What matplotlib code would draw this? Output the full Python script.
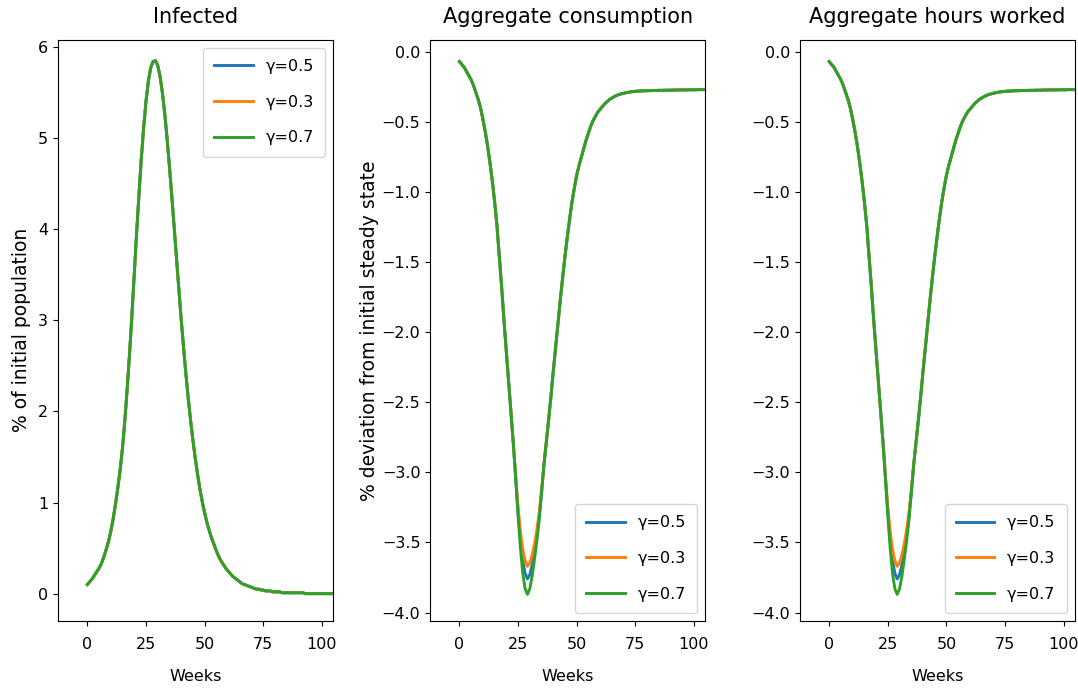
import matplotlib
matplotlib.use("Agg")
import matplotlib.pyplot as plt

weeks = list(range(105))

# infected, % of initial population (same for every gamma)
infected = [
    0.10, 0.13, 0.16, 0.20, 0.24, 0.28, 0.33, 0.40, 0.48, 0.57,
    0.68, 0.82, 0.98, 1.16, 1.36, 1.60, 1.90, 2.25, 2.63, 3.05,
    3.50, 3.95, 4.37, 4.77, 5.11, 5.40, 5.62, 5.77, 5.84, 5.85,
    5.80, 5.68, 5.50, 5.27, 5.00, 4.69, 4.37, 4.03, 3.69, 3.35,
    3.02, 2.71, 2.42, 2.15, 1.91, 1.69, 1.49, 1.31, 1.15, 1.01,
    0.89, 0.78, 0.69, 0.61, 0.54, 0.47, 0.41, 0.36, 0.32, 0.28,
    0.25, 0.22, 0.19, 0.17, 0.15, 0.13, 0.11, 0.10, 0.09, 0.08,
    0.07, 0.06, 0.05, 0.05, 0.04, 0.04, 0.03, 0.03, 0.03, 0.02,
    0.02, 0.02, 0.02, 0.01, 0.01, 0.01, 0.01, 0.01, 0.01, 0.01,
    0.01, 0.01, 0.01, 0.00, 0.00, 0.00, 0.00, 0.00, 0.00, 0.00,
    0.00, 0.00, 0.00, 0.00, 0.00,
]

# consumption, % deviation from initial steady state (gamma=0.3 path)
cons_base = [
    -0.07, -0.09, -0.11, -0.14, -0.17, -0.20, -0.24, -0.29, -0.34, -0.40,
    -0.48, -0.57, -0.67, -0.79, -0.92, -1.07, -1.24, -1.46, -1.68, -1.92,
    -2.14, -2.36, -2.58, -2.80, -3.03, -3.25, -3.42, -3.55, -3.63, -3.67,
    -3.645, -3.59, -3.51, -3.41, -3.29, -3.13, -2.95, -2.79, -2.63, -2.46,
    -2.28, -2.11, -1.94, -1.77, -1.61, -1.46, -1.32, -1.19, -1.07, -0.97,
    -0.88, -0.81, -0.75, -0.69, -0.63, -0.58, -0.53, -0.49, -0.46, -0.43,
    -0.41, -0.39, -0.37, -0.355, -0.34, -0.33, -0.32, -0.312, -0.305, -0.30,
    -0.296, -0.292, -0.289, -0.286, -0.284, -0.282, -0.281, -0.280, -0.279, -0.278,
    -0.278, -0.277, -0.277, -0.276, -0.276, -0.275, -0.275, -0.275, -0.274, -0.274,
    -0.274, -0.273, -0.273, -0.273, -0.272, -0.272, -0.272, -0.272, -0.271, -0.271,
    -0.271, -0.271, -0.270, -0.270, -0.270,
]

# the paths only split around the trough (weeks 24..35)
trough_start = 24
trough_05 = [-3.04, -3.28, -3.48, -3.63, -3.72, -3.76, -3.73, -3.66, -3.56, -3.45, -3.31, -3.14]
trough_03 = cons_base[24:36]
trough_07 = [-3.05, -3.31, -3.54, -3.72, -3.83, -3.87, -3.83, -3.74, -3.62, -3.49, -3.34, -3.15]

gammas = ["0.5", "0.3", "0.7"]
troughs = [trough_05, trough_03, trough_07]


def with_trough(base, trough):
    s = list(base)
    s[trough_start:trough_start + len(trough)] = trough
    return s


consumption = [with_trough(cons_base, t) for t in troughs]
hours = [with_trough(cons_base, t) for t in troughs]  # identical in the figure

plt.rcParams["font.size"] = 11.5

fig = plt.figure(figsize=(10.78, 6.92), dpi=100)
w, h, b = 0.255, 0.840, 0.1026
ax1 = fig.add_axes([0.0538, b, w, h])
ax2 = fig.add_axes([0.399, b, w, h])
ax3 = fig.add_axes([0.742, b, w, h])

leg_kw = dict(labelspacing=1.3, borderpad=0.7, handlelength=2.4)

for g in gammas:
    ax1.plot(weeks, infected, lw=2.1, label="γ=" + g)
ax1.set_title("Infected", fontsize=15, pad=12)
ax1.set_ylabel("% of initial population", fontsize=13.5, labelpad=5)
ax1.legend(loc="upper right", **leg_kw)

for g, s in zip(gammas, consumption):
    ax2.plot(weeks, s, lw=2.1, label="γ=" + g)
ax2.set_title("Aggregate consumption", fontsize=15, pad=12)
ax2.set_ylabel("% deviation from initial steady state", fontsize=13.5, labelpad=2)
ax2.legend(loc="lower right", **leg_kw)

for g, s in zip(gammas, hours):
    ax3.plot(weeks, s, lw=2.1, label="γ=" + g)
ax3.set_title("Aggregate hours worked", fontsize=15, pad=12)
ax3.legend(loc="lower right", **leg_kw)

for ax in (ax1, ax2, ax3):
    ax.set_xlim(-12.5, 104.7)
    ax.set_xlabel("Weeks", labelpad=12)
    ax.set_xticks([0, 25, 50, 75, 100])
    ax.tick_params(axis="x", pad=8)

ax1.set_ylim(-0.3, 6.08)
ax2.set_ylim(-4.06, 0.086)
ax3.set_ylim(-4.06, 0.086)

fig.savefig("out.png", dpi=100)
